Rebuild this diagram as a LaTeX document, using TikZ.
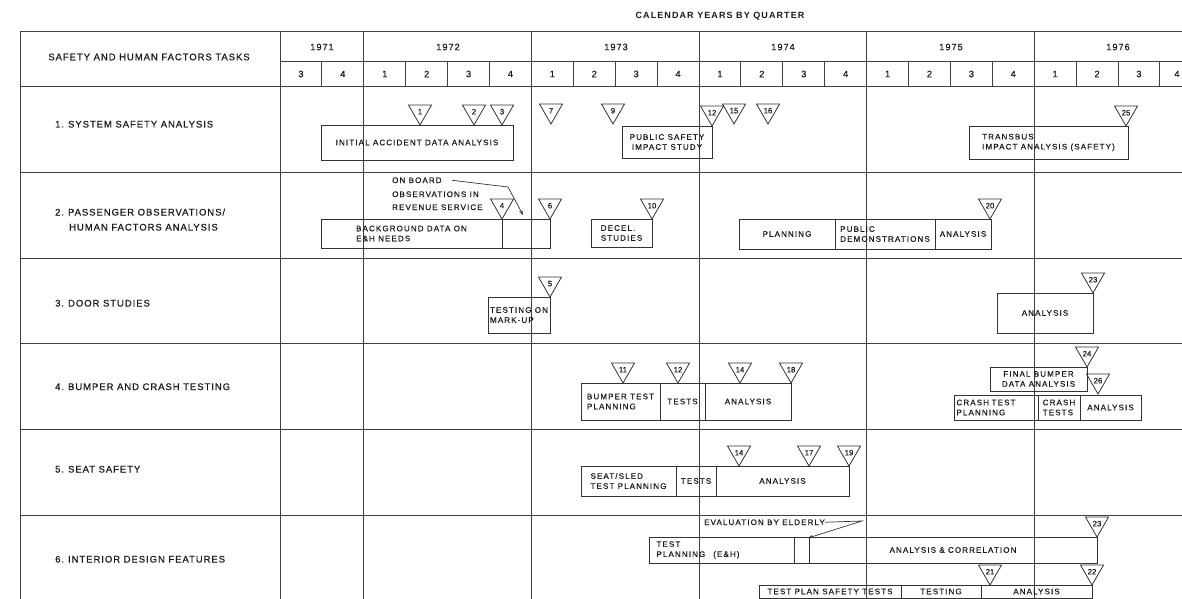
\documentclass[tikz,border=0pt]{standalone}
\usepackage{fontspec}
\setmainfont{Liberation Sans}[FakeBold=0.4]
\newfontfamily\lblfont[LetterSpace=10,FakeBold=0.5]{Liberation Sans}
\newfontfamily\bxfont[LetterSpace=14,FakeBold=0.5]{Liberation Sans}
\newfontfamily\ttlfont[LetterSpace=12]{Liberation Sans}
\usetikzlibrary{shapes.geometric,arrows.meta}
\newcommand\gbx[7][]{%
  \pgfmathsetmacro\gbxw{#5-#3}%
  \pgfmathsetmacro\gbxh{#6-#4}%
  \node[bx,minimum width=\gbxw pt,minimum height=\gbxh pt,anchor=north west,#1] (#2) at (#3,#4) {#7};%
}
\begin{document}
\begin{tikzpicture}[x=1pt,y=-1pt,
  grid/.style={line width=1pt,draw=black!75},
  bx/.style={draw=black!80,line width=0.8pt,inner xsep=1.5pt,inner ysep=1pt,outer sep=0pt,
     font=\bxfont\fontsize{8}{10}\selectfont,text=black!90,align=left},
  ms/.style={regular polygon,regular polygon sides=3,shape border rotate=180,draw=black!80,
     line width=0.8pt,minimum size=26.6pt,inner sep=0pt,outer sep=0pt,
     font=\fontsize{7.8}{8}\selectfont,text=black!90},
  lbl/.style={font=\lblfont\fontsize{9.5}{12}\selectfont,text=black!90,inner sep=0pt},
  yr/.style={font=\lblfont\fontsize{9.3}{11}\selectfont,text=black!90,inner sep=0pt},
  ttl/.style={font=\ttlfont\bfseries\fontsize{9}{11}\selectfont,text=black!90,inner sep=0pt},
  note/.style={font=\bxfont\fontsize{8}{10}\selectfont,text=black!90,inner sep=0pt},
  conn/.style={draw=black!80,line width=0.7pt,-{Stealth[length=5pt,width=3.5pt]}}]
\useasboundingbox (0,0) rectangle (1182,599);
% ---------- grid ----------
\draw[grid] (20,32) -- (1182,32);
\draw[grid] (280,62) -- (1182,62);
\draw[grid] (20,87) -- (1182,87);
\foreach \yy in {172,258,343,429,515} \draw[grid] (20,\yy) -- (1182,\yy);
\draw[grid] (20,32) -- (20,599);
\foreach \k in {0,2,6,10,14,18} \draw[grid] ({280+41.9*\k},32) -- ({280+41.9*\k},599);
\foreach \k in {1,3,4,5,7,8,9,11,12,13,15,16,17,19,20,21} \draw[grid] ({280+41.9*\k},62) -- ({280+41.9*\k},87);
% ---------- header ----------
\node[ttl] (ttl) at (720,16) {CALENDAR YEARS BY QUARTER};
\node[lbl] (hd) at (149,57) {SAFETY AND HUMAN FACTORS TASKS};
\node[yr] (y71) at (322,47) {1971};
\node[yr] (y72) at (448,47) {1972};
\node[yr] (y73) at (616,47) {1973};
\node[yr] (y74) at (783,47) {1974};
\node[yr] (y75) at (951,47) {1975};
\node[yr] (y76) at (1118,47) {1976};
\foreach \q [count=\i] in {3,4,1,2,3,4,1,2,3,4,1,2,3,4,1,2,3,4,1,2,3}
  \node[yr] (q\i) at ({280+41.9*(\i-0.5)},74) {\q};
\node[yr] (q22) at (1177,74) {4};
% ---------- task labels ----------
\node[lbl,anchor=base west] (r1) at (55,127.5) {1.\hspace{4pt}SYSTEM SAFETY ANALYSIS};
\node[lbl,anchor=base west] (r2a) at (55,215.5) {2.\hspace{4pt}PASSENGER OBSERVATIONS/};
\node[lbl,anchor=base west] (r2b) at (69,230.5) {HUMAN FACTORS ANALYSIS};
\node[lbl,anchor=base west] (r3) at (55,306.5) {3.\hspace{4pt}DOOR STUDIES};
\node[lbl,anchor=base west] (r4) at (55,390) {4.\hspace{4pt}BUMPER AND CRASH TESTING};
\node[lbl,anchor=base west] (r5) at (55,472.5) {5.\hspace{4pt}SEAT SAFETY};
\node[lbl,anchor=base west] (r6) at (55,562.5) {6.\hspace{4pt}INTERIOR DESIGN FEATURES};
% ---------- row 1 ----------
\gbx{b1a}{321}{125}{513}{160}{INITIAL ACCIDENT DATA ANALYSIS}
\gbx[align=center]{b1b}{622}{126}{712}{158}{PUBLIC SAFETY\\IMPACT STUDY}
\gbx{b1c}{969}{126}{1128}{159}{TRANSBUS\\IMPACT ANALYSIS (SAFETY)}
\node[ms,anchor=corner 1] (m1) at (420,125) {1};
\node[ms,anchor=corner 1] (m2) at (474,125) {2};
\node[ms,anchor=corner 1] (m3) at (502,125) {3};
\node[ms,anchor=corner 1] (m7) at (551,124) {7};
\node[ms,anchor=corner 1] (m9) at (613,124) {9};
\node[ms,anchor=corner 1] (m12a) at (712,126) {12};
\node[ms,anchor=corner 1] (m15) at (734,124) {15};
\node[ms,anchor=corner 1] (m16) at (768,124) {16};
\node[ms,anchor=corner 1] (m25) at (1126,126) {25};
% ---------- row 2 ----------
\gbx{b2a}{321}{219}{502}{248}{BACKGROUND DATA ON\\E\&H NEEDS}
\gbx{b2b}{502}{219}{550}{248}{}
\gbx{b2c}{591}{219}{652}{247}{DECEL.\\STUDIES}
\gbx{b2d}{739}{219}{835}{249}{PLANNING}
\gbx{b2e}{835}{219}{935}{249}{PUBLIC\\DEMONSTRATIONS}
\gbx{b2f}{935}{219}{991}{249}{ANALYSIS}
\node[ms,anchor=corner 1] (m4) at (502,219) {4};
\node[ms,anchor=corner 1] (m6) at (550,219) {6};
\node[ms,anchor=corner 1] (m10) at (652,219) {10};
\node[ms,anchor=corner 1] (m20) at (990,219) {20};
\node[note,anchor=base west] (onb) at (392,183) {ON BOARD};
\node[note,anchor=base west] (obs1) at (392,197) {OBSERVATIONS IN};
\node[note,anchor=base west] (obs2) at (392,210) {REVENUE SERVICE};
\coordinate (obk) at (508,187);
\coordinate (obt) at (523,215);
\draw[conn] ([xshift=10pt]onb.east) -- (obk) -- (obt);
% ---------- row 3 ----------
\gbx{b3a}{488}{297}{550}{333}{TESTING ON\\MARK-UP}
\gbx{b3b}{997}{293}{1093}{333}{ANALYSIS}
\node[ms,anchor=corner 1] (m5) at (550,297) {5};
\node[ms,anchor=corner 1] (m23a) at (1093,293) {23};
% ---------- row 4 ----------
\gbx{b4a}{581}{383}{660}{420}{BUMPER TEST\\PLANNING}
\gbx{b4b}{660}{383}{705}{420}{TESTS}
\gbx{b4c}{705}{383}{791}{420}{ANALYSIS}
\gbx[align=center]{b4d}{990}{367}{1087}{391}{FINAL BUMPER\\DATA ANALYSIS}
\gbx[text width=79pt]{b4e}{954}{395}{1038}{420}{CRASH TEST\\PLANNING}
\gbx{b4f}{1038}{395}{1080}{420}{CRASH\\TESTS}
\gbx{b4g}{1080}{395}{1141}{420}{ANALYSIS}
\node[ms,anchor=corner 1] (m11) at (623,383) {11};
\node[ms,anchor=corner 1] (m12b) at (678,383) {12};
\node[ms,anchor=corner 1] (m14a) at (740,383) {14};
\node[ms,anchor=corner 1] (m18) at (791,383) {18};
\node[ms,anchor=corner 1] (m24) at (1087,367) {24};
\node[ms,anchor=corner 1] (m26) at (1098,394) {26};
% ---------- row 5 ----------
\gbx{b5a}{581}{466}{676}{496}{SEAT/SLED\\TEST PLANNING}
\gbx{b5b}{676}{466}{716}{496}{TESTS}
\gbx{b5c}{716}{466}{849}{496}{ANALYSIS}
\node[ms,anchor=corner 1] (m14b) at (739,466) {14};
\node[ms,anchor=corner 1] (m17) at (809,466) {17};
\node[ms,anchor=corner 1] (m19) at (849,466) {19};
% ---------- row 6 ----------
\gbx[text width=130pt]{b6a}{649}{537}{794}{563}{TEST\\PLANNING\hspace{8pt}(E\&H)}
\gbx{b6b}{794}{537}{809}{563}{}
\gbx{b6c}{809}{537}{1097}{563}{ANALYSIS \& CORRELATION}
\gbx{b6d}{759}{585}{901}{598}{TEST PLAN SAFETY TESTS}
\gbx{b6e}{901}{585}{981}{598}{TESTING}
\gbx{b6f}{981}{585}{1092}{598}{ANALYSIS}
\node[ms,anchor=corner 1] (m23b) at (1097,537) {23};
\node[ms,anchor=corner 1] (m21) at (990,585) {21};
\node[ms,anchor=corner 1] (m22) at (1092,585) {22};
\node[note,anchor=base west] (ev) at (704,525) {EVALUATION BY ELDERLY};
\coordinate (evk) at (862,521);
\coordinate (evt) at (808,538);
\draw[conn] (ev.east) -- (evk) -- (evt);
\end{tikzpicture}
\end{document}
